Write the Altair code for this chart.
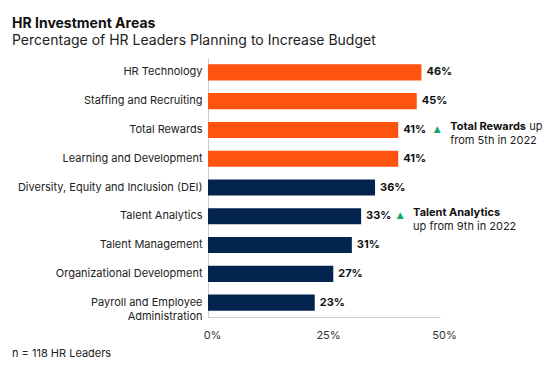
import altair as alt
import pandas as pd

categories = [
    "HR Technology",
    "Staffing and Recruiting",
    "Total Rewards",
    "Learning and Development",
    "Diversity, Equity and Inclusion (DEI)",
    "Talent Analytics",
    "Talent Management",
    "Organizational Development",
    "Payroll and Employee Administration",
]
values = [46, 45, 41, 41, 36, 33, 31, 27, 23]
groups = ["top", "top", "top", "top", "rest", "rest", "rest", "rest", "rest"]

notes_cat = ["Total Rewards", "Talent Analytics"]
notes_val = [41, 33]
notes_bold = ["Total Rewards", "Talent Analytics"]
notes_line2 = ["from 5th in 2022", "up from 9th in 2022"]

FONT = "Inter"
ORANGE = "#FF5310"
NAVY = "#02244F"
GREEN = "#13A86B"

df = pd.DataFrame({"cat": categories, "val": values, "grp": groups})
df["lbl"] = df["val"].astype(str) + "%"
notes = pd.DataFrame({"cat": notes_cat, "val": notes_val, "bold": notes_bold, "line2": notes_line2})

y_enc = alt.Y(
    "cat:N",
    sort=categories,
    scale=alt.Scale(paddingInner=0.44, paddingOuter=0.22),
    axis=alt.Axis(
        title=None, ticks=False, domain=True, domainColor="#cccccc", labelPadding=6,
        labelFont=FONT, labelFontSize=11, labelColor="#222222", labelLineHeight=14,
        labelLimit=300,
        labelExpr="datum.label == 'Payroll and Employee Administration' ? ['Payroll and Employee', 'Administration'] : datum.label",
    ),
)
x_enc = alt.X(
    "val:Q",
    scale=alt.Scale(domain=[0, 50]),
    axis=alt.Axis(
        title=None, values=[0, 25, 50], format=".0f", labelExpr="datum.value + '%'",
        grid=False, ticks=False, domainColor="#cccccc", labelPadding=12, labelOffset=4,
        labelFlush=False,
        labelFont=FONT, labelFontSize=11, labelColor="#333333",
    ),
)

bars = alt.Chart(df).mark_bar().encode(
    y=y_enc,
    x=x_enc,
    color=alt.Color("grp:N", scale=alt.Scale(domain=["top", "rest"], range=[ORANGE, NAVY]), legend=None),
)

labels = alt.Chart(df).mark_text(
    align="left", baseline="middle", dx=5, font=FONT, fontSize=11, fontWeight="bold", color="#111111"
).encode(y=alt.Y("cat:N", sort=categories), x="val:Q", text="lbl:N")

tri = alt.Chart(notes).mark_text(
    text="▲", align="center", baseline="middle", dx=39, dy=-1, font="DejaVu Sans", fontSize=9, color=GREEN
).encode(y=alt.Y("cat:N", sort=categories), x="val:Q")

bold1 = alt.Chart(notes).mark_text(
    align="left", baseline="middle", dx=52, dy=-3, font=FONT, fontSize=11, fontWeight="bold", color="#111111"
).encode(y=alt.Y("cat:N", sort=categories), x="val:Q", text="bold:N")

up_word = alt.Chart(notes[notes["cat"] == "Total Rewards"]).mark_text(
    text="up", align="left", baseline="middle", dx=131, dy=-3, font=FONT, fontSize=11, color="#222222"
).encode(y=alt.Y("cat:N", sort=categories), x="val:Q")

line2 = alt.Chart(notes).mark_text(
    align="left", baseline="middle", dx=52, dy=11, font=FONT, fontSize=11, color="#222222"
).encode(y=alt.Y("cat:N", sort=categories), x="val:Q", text="line2:N")

foot = alt.Chart(pd.DataFrame({"t": ["n = 118 HR Leaders"]})).mark_text(
    align="left", baseline="alphabetic", font=FONT, fontSize=11, color="#222222"
).encode(x=alt.value(-196), y=alt.value(299), text="t:N")

chart = alt.layer(bars, labels, tri, bold1, up_word, line2, foot).properties(
    width=232,
    height=259,
    autosize=alt.AutoSizeParams(type="none"),
    padding={"left": 200, "top": 50, "right": 110, "bottom": 46},
    title=alt.TitleParams(
        text="HR Investment Areas",
        subtitle="Percentage of HR Leaders Planning to Increase Budget",
        anchor="start", frame="group", dx=-196, offset=10,
        font=FONT, fontSize=14, fontWeight="bold", color="#111111",
        subtitleFont=FONT, subtitleFontSize=14, subtitleColor="#222222", subtitlePadding=3,
    ),
).configure_view(stroke=None)

chart.save("out.html", embed_options={"renderer": "svg", "actions": False})
